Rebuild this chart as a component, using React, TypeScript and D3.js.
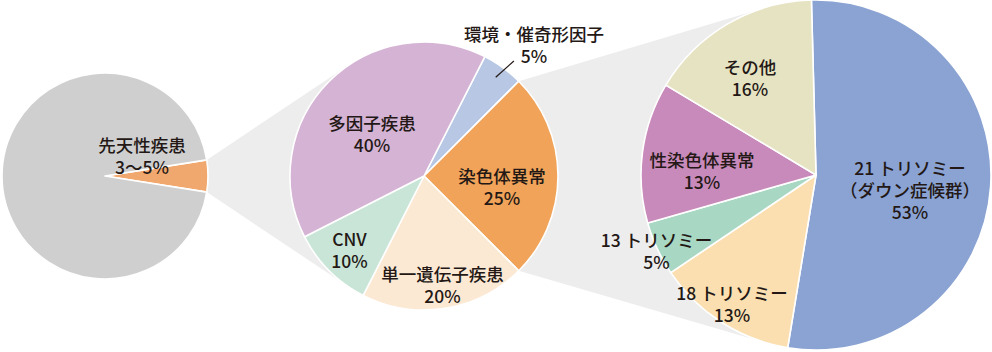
import * as d3 from "d3";

// slice data
const leftNames = ["先天性疾患", "その他の出生"];
const leftValues = [5, 95];
const leftColors = ["#f1a86f", "#cfcfd0"];

const midNames = ["環境・催奇形因子", "染色体異常", "単一遺伝子疾患", "CNV", "多因子疾患"];
const midValues = [5, 25, 20, 10, 40];
const midColors = ["#b8c7e4", "#f0a359", "#fce9d4", "#c8e5d7", "#d5b3d4"];

const rightNames = ["21 トリソミー", "18 トリソミー", "13 トリソミー", "性染色体異常", "その他"];
const rightValues = [53, 13, 5, 13, 16];
const rightColors = ["#8aa3d3", "#fbdfb0", "#a8d8c3", "#c88aba", "#e6e3c2"];

// label text: extra lines between name and percent
const pctText: Record<string, string> = { 先天性疾患: "3〜5%" };
const extraLines: Record<string, string> = { "21 トリソミー": "（ダウン症候群）" };

// layout
const W = 992;
const H = 352;
const LINE = 22;
const TEXT = "#231815";
const CONNECT = "#ededed";

const LEFT = { cx: 105, cy: 176, r: 103, start: 81 };
const MID = { cx: 424, cy: 176, r: 134, start: 27 };
const RIGHT = { cx: 816, cy: 175, r: 175, start: -1.5 };

// first-line centre of each label block
const LABEL_POS: Record<string, [number, number]> = {
  先天性疾患: [142, 144],
  環境・催奇形因子: [534, 33.5],
  染色体異常: [502, 175],
  単一遺伝子疾患: [442.5, 273],
  CNV: [349.5, 238],
  多因子疾患: [372, 122],
  "21 トリソミー": [910, 167],
  "18 トリソミー": [732, 292],
  "13 トリソミー": [656.5, 239],
  性染色体異常: [702, 159],
  その他: [750, 66.5],
};

const rad = (deg: number) => (deg * Math.PI) / 180;

type PieCfg = { cx: number; cy: number; r: number; start: number };

const layout = (values: number[], cfg: PieCfg) =>
  d3
    .pie<number>()
    .sort(null)
    .value((d) => d)
    .startAngle(rad(cfg.start))
    .endAngle(rad(cfg.start) + 2 * Math.PI)(values);

// point on circle for a d3 pie angle (clockwise from 12 o'clock)
const polar = (cfg: PieCfg, a: number, r = cfg.r): [number, number] => [
  cfg.cx + r * Math.sin(a),
  cfg.cy - r * Math.cos(a),
];

// tangent point from external point p to circle, side = +1 / -1
const tangent = (p: [number, number], cfg: PieCfg, side: number): [number, number] => {
  const dx = p[0] - cfg.cx;
  const dy = p[1] - cfg.cy;
  const d = Math.hypot(dx, dy);
  const th = Math.atan2(dy, dx);
  const al = Math.acos(cfg.r / d);
  return [cfg.cx + cfg.r * Math.cos(th + side * al), cfg.cy + cfg.r * Math.sin(th + side * al)];
};

const Pie = ({ values, colors, cfg }: { values: number[]; colors: string[]; cfg: PieCfg }) => {
  const arcs = layout(values, cfg);
  const arc = d3.arc<d3.PieArcDatum<number>>().innerRadius(0).outerRadius(cfg.r);
  return (
    <g transform={`translate(${cfg.cx},${cfg.cy})`}>
      {arcs.map((a, i) => (
        <path key={i} d={arc(a) ?? ""} fill={colors[i]} stroke="#fff" strokeWidth={1.6} strokeLinejoin="round" />
      ))}
    </g>
  );
};

const Label = ({ name, value }: { name: string; value: number }) => {
  const pos = LABEL_POS[name];
  if (!pos) return null;
  const lines = [name];
  if (extraLines[name]) lines.push(extraLines[name]);
  lines.push(pctText[name] ?? `${value}%`);
  return (
    <g>
      {lines.map((t, i) => (
        <text
          key={i}
          x={pos[0]}
          y={pos[1] + i * LINE}
          textAnchor="middle"
          dominantBaseline="central"
          fill={TEXT}
          fontSize={17.5}
          fontWeight={500}
        >
          {t}
        </text>
      ))}
    </g>
  );
};

export default function App() {
  const leftArcs = layout(leftValues, LEFT);
  const midArcs = layout(midValues, MID);

  // connector left -> middle: edges of the small slice, tangent to middle pie
  const zoomSlice = leftArcs[0];
  const p1 = polar(LEFT, zoomSlice.startAngle);
  const p2 = polar(LEFT, zoomSlice.endAngle);
  const poly1 = [p1, tangent(p1, MID, 1), [MID.cx, MID.cy], tangent(p2, MID, -1), p2];

  // connector middle -> right: edges of 染色体異常 slice
  const chrom = midArcs[midNames.indexOf("染色体異常")];
  const a1 = polar(MID, chrom.startAngle);
  const a2 = polar(MID, chrom.endAngle);
  const poly2 = [a1, tangent(a1, RIGHT, 1), [RIGHT.cx, RIGHT.cy], tangent(a2, RIGHT, -1), a2];

  const line = d3.line();

  // leader for the small outside label
  const envArc = midArcs[0];
  const envMid = (envArc.startAngle + envArc.endAngle) / 2;
  const lp0 = polar(MID, envMid, MID.r - 12);
  const lp1 = polar(MID, envMid + rad(2), MID.r + 12);

  return (
    <svg
      width={W}
      height={H}
      style={{ position: "absolute", left: 0, top: 0, fontFamily: "'Noto Sans CJK JP', 'Noto Sans', sans-serif" }}
    >
      <rect width={W} height={H} fill="#fff" />
      <path d={(line(poly1 as [number, number][]) ?? "") + "Z"} fill={CONNECT} />
      <path d={(line(poly2 as [number, number][]) ?? "") + "Z"} fill={CONNECT} />

      <Pie values={leftValues} colors={leftColors} cfg={LEFT} />
      <Pie values={midValues} colors={midColors} cfg={MID} />
      <Pie values={rightValues} colors={rightColors} cfg={RIGHT} />

      <line x1={lp0[0]} y1={lp0[1]} x2={lp1[0]} y2={lp1[1]} stroke={TEXT} strokeWidth={1.2} />

      <Label name={leftNames[0]} value={leftValues[0]} />
      {midNames.map((n, i) => (
        <Label key={n} name={n} value={midValues[i]} />
      ))}
      {rightNames.map((n, i) => (
        <Label key={n} name={n} value={rightValues[i]} />
      ))}
    </svg>
  );
}
